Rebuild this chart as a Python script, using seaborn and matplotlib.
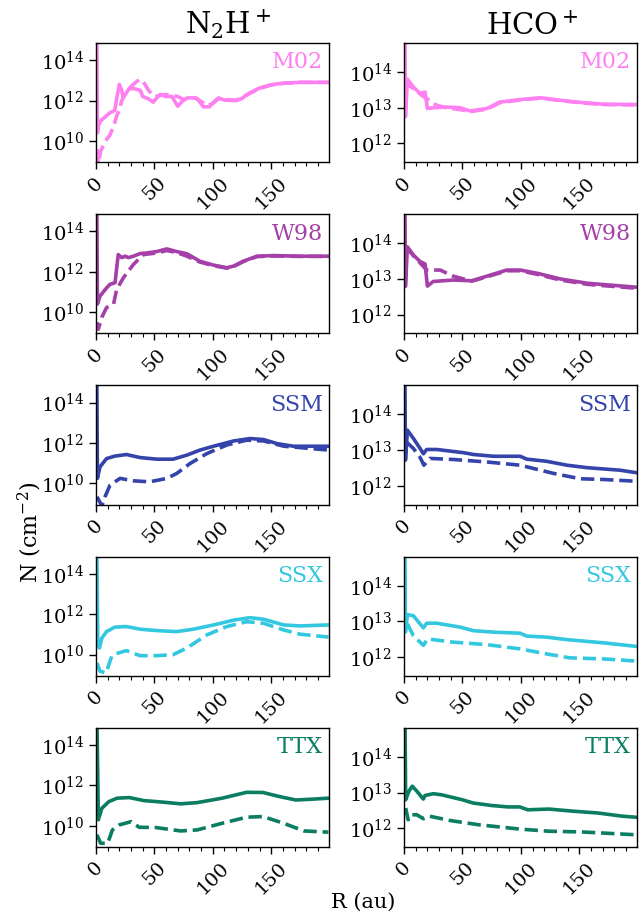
import numpy as np
import pandas as pd
import matplotlib
matplotlib.use("Agg")
import matplotlib.pyplot as plt
from matplotlib.ticker import FixedLocator, MultipleLocator, NullLocator, LogFormatterMathtext
import seaborn as sns

# ---------------- data (log10 N [cm^-2] vs R [au]) ----------------
models = ["M02", "W98", "SSM", "SSX", "TTX"]
molecules = ["N$_2$H$^+$", "HCO$^+$"]
model_colors = ["#ff80f0", "#a540a8", "#3444ab", "#34c8e0", "#0b7d62"]

# M02
r_m02_n2h_solid = [0.6, 1.2, 2, 4, 8, 12, 16, 18, 20, 22, 23, 25, 28, 32, 38, 40, 45, 49, 52, 55, 60, 65, 70, 74, 78, 85, 88, 92, 97, 100, 105, 110, 120, 125, 130, 140, 150, 160, 175, 199]
n_m02_n2h_solid = [16, 10.4, 10.75, 11.0, 11.2, 11.4, 11.5, 12.2, 12.8, 12.5, 12.2, 12.3, 12.56, 12.6, 12.5, 12.2, 12.08, 11.92, 12.13, 12.3, 12.2, 12.2, 11.72, 11.97, 12.13, 12.13, 12.0, 11.69, 11.69, 11.89, 12.13, 12.02, 12.0, 12.1, 12.33, 12.62, 12.78, 12.86, 12.9, 12.9]
r_m02_n2h_dash = [0.8, 2, 4, 8, 12, 16, 18, 20, 22, 25, 30, 35, 38, 42, 45, 50, 55, 60, 65, 70, 75, 80, 85, 90, 95, 100, 105, 110, 120, 130, 140, 150, 160, 175, 199]
n_m02_n2h_dash = [9.6, 8.9, 9.5, 10.0, 10.3, 10.9, 11.3, 11.5, 12.0, 12.3, 12.7, 12.95, 13.05, 12.8, 12.5, 12.2, 12.25, 12.3, 12.25, 12.2, 12.05, 12.1, 12.15, 11.95, 11.75, 11.85, 12.1, 12.05, 12.02, 12.3, 12.6, 12.77, 12.85, 12.9, 12.9]
r_m02_hco_solid = [0.6, 1.2, 2.9, 8, 13.7, 18, 20, 25, 36.6, 48, 56.6, 71, 82, 99.5, 117, 134, 151, 171, 199]
n_m02_hco_solid = [16, 12.75, 13.8, 13.58, 13.4, 13.44, 12.98, 13.0, 13.02, 13.0, 12.91, 12.98, 13.16, 13.23, 13.28, 13.21, 13.15, 13.1, 13.09]
r_m02_hco_dash = [1.2, 3, 5, 10, 15, 19.4, 24, 28, 36, 48, 56, 71, 82, 99.5, 117, 134, 151, 171, 199]
n_m02_hco_dash = [13.7, 13.75, 13.6, 13.5, 13.35, 13.26, 13.15, 13.07, 13.0, 12.95, 12.89, 12.96, 13.14, 13.22, 13.27, 13.2, 13.14, 13.09, 13.08]

# W98
r_w98_n2h_solid = [0.6, 1.2, 3.4, 9, 12, 16.3, 19, 22, 25, 27.7, 32, 37.7, 43.5, 52, 60.6, 69, 77.8, 89, 100.6, 112, 117.8, 126, 137.8, 152, 175, 199]
n_w98_n2h_solid = [16, 10.4, 10.8, 11.2, 11.38, 11.46, 12.85, 12.7, 12.77, 12.7, 12.77, 12.9, 12.93, 13.0, 13.13, 13.0, 12.89, 12.52, 12.33, 12.2, 12.28, 12.52, 12.77, 12.8, 12.77, 12.77]
r_w98_n2h_dash = [0.8, 2, 4.9, 9, 15, 17.7, 23.4, 32, 40.6, 52, 60.6, 69, 77.8, 89, 100.6, 112, 117.8, 126, 137.8, 152, 175, 199]
n_w98_n2h_dash = [9.5, 9.16, 9.74, 10.23, 10.4, 11.13, 11.7, 12.36, 12.85, 12.93, 13.05, 12.95, 12.77, 12.48, 12.3, 12.18, 12.26, 12.5, 12.75, 12.78, 12.76, 12.76]
r_w98_hco_solid = [0.6, 1.2, 2.9, 8, 13.7, 18, 20, 25, 42, 58, 71, 88, 99.5, 114, 134, 157, 199]
n_w98_hco_solid = [16, 12.79, 13.9, 13.67, 13.49, 13.42, 12.8, 12.93, 12.97, 12.95, 13.08, 13.25, 13.25, 13.16, 13.0, 12.88, 12.77]
r_w98_hco_dash = [1.2, 3, 8, 13.7, 19.4, 31, 42, 58, 71, 88, 99.5, 114, 134, 157, 199]
n_w98_hco_dash = [13.85, 13.85, 13.65, 13.45, 13.25, 13.25, 13.08, 12.94, 13.06, 13.23, 13.23, 13.13, 12.97, 12.85, 12.74]

# SSM
r_ssm_n2h_solid = [0.6, 1.2, 3.4, 9, 16, 26, 37.7, 52, 66, 77.8, 89, 100.6, 117.8, 132, 143.5, 155, 169, 199]
n_ssm_n2h_solid = [16, 10.25, 10.82, 11.23, 11.35, 11.43, 11.28, 11.2, 11.2, 11.4, 11.65, 11.84, 12.1, 12.22, 12.17, 11.97, 11.84, 11.84]
r_ssm_n2h_dash = [0.8, 5, 7.7, 12, 20.6, 32, 46, 60.6, 69, 80.6, 95, 112, 129, 143.5, 160.7, 199]
n_ssm_n2h_dash = [9.34, 8.9, 9.34, 9.92, 10.25, 10.13, 10.08, 10.25, 10.49, 10.99, 11.48, 11.9, 12.14, 12.1, 11.84, 11.65]
r_ssm_hco_solid = [0.6, 1.2, 2.9, 8, 13.7, 16.6, 19.4, 28, 51, 59.5, 76.6, 99.5, 105, 122, 139.5, 157, 185, 199]
n_ssm_hco_solid = [16, 12.72, 13.56, 13.33, 13.05, 12.9, 13.02, 13.02, 12.93, 12.88, 12.83, 12.83, 12.75, 12.69, 12.58, 12.51, 12.44, 12.37]
r_ssm_hco_dash = [2, 8, 13.7, 17, 22, 42, 71, 99.5, 128, 151, 171, 199]
n_ssm_hco_dash = [13.23, 13.05, 12.8, 12.58, 12.77, 12.74, 12.67, 12.58, 12.35, 12.2, 12.18, 12.13]

# SSX
r_ssx_n2h_solid = [0.6, 1.5, 2.9, 5, 9, 16, 26, 37.7, 52, 69, 83.5, 100.6, 118, 132, 143.5, 160.7, 175, 199]
n_ssx_n2h_solid = [16, 10.6, 10.33, 10.82, 11.14, 11.36, 11.39, 11.26, 11.19, 11.14, 11.26, 11.47, 11.71, 11.83, 11.75, 11.47, 11.42, 11.47]
r_ssx_n2h_dash = [0.8, 3.4, 8.6, 13.4, 16, 26, 37.7, 52, 66, 77.8, 95, 112, 129, 143.5, 160.7, 175, 199]
n_ssx_n2h_dash = [9.59, 9.18, 9.1, 9.92, 10.03, 10.2, 9.95, 9.95, 10.0, 10.33, 10.98, 11.39, 11.63, 11.55, 11.22, 11.01, 10.87]
r_ssx_hco_solid = [0.6, 1.2, 2.9, 8, 13.7, 16.6, 19.4, 28, 48, 59.5, 76.6, 99.5, 105, 122, 139.5, 171, 199]
n_ssx_hco_solid = [16, 12.7, 13.19, 13.16, 12.93, 12.82, 12.95, 12.95, 12.84, 12.74, 12.7, 12.67, 12.59, 12.56, 12.49, 12.4, 12.3]
r_ssx_hco_dash = [2.9, 8, 13.7, 16.6, 20, 42, 71, 99.5, 122, 142, 171, 199]
n_ssx_hco_dash = [12.93, 12.6, 12.42, 12.33, 12.51, 12.42, 12.35, 12.23, 12.09, 11.98, 11.95, 11.89]

# TTX
r_ttx_n2h_solid = [0.6, 2, 5, 11, 18, 28.5, 41, 58, 72.5, 86.6, 108, 129, 143, 157, 171, 185, 199]
n_ttx_n2h_solid = [16, 10.3, 10.87, 11.2, 11.37, 11.4, 11.25, 11.17, 11.09, 11.15, 11.37, 11.66, 11.65, 11.45, 11.28, 11.32, 11.37]
r_ttx_n2h_dash = [0.8, 4, 10, 14, 20, 30, 37, 51, 72.5, 86.6, 108, 129, 143, 160.6, 178, 199]
n_ttx_n2h_dash = [9.56, 9.14, 9.14, 9.8, 10.05, 10.21, 9.93, 9.92, 9.75, 9.8, 10.13, 10.43, 10.46, 10.13, 9.75, 9.69]
r_ttx_hco_solid = [0.6, 1.4, 4.2, 7, 11, 16.5, 18, 25, 32, 50, 59, 75, 89, 99, 106, 124, 145, 166, 187, 199]
n_ttx_hco_solid = [16, 12.8, 13.04, 13.18, 13.04, 12.82, 12.92, 12.97, 12.94, 12.8, 12.71, 12.64, 12.6, 12.6, 12.52, 12.54, 12.48, 12.43, 12.34, 12.31]
r_ttx_hco_dash = [1.4, 3.5, 6, 11, 16.5, 22, 39.4, 64, 99, 124, 152, 199]
n_ttx_hco_dash = [12.57, 12.24, 12.38, 12.38, 12.27, 12.34, 12.22, 12.1, 11.98, 11.92, 11.9, 11.82]

x_ticks = [0, 50, 100, 150]
y_ticks_n2h = [1e10, 1e12, 1e14]
y_ticks_hco = [1e12, 1e13, 1e14]

series = {
    ("M02", 0): [(r_m02_n2h_solid, n_m02_n2h_solid, "-"), (r_m02_n2h_dash, n_m02_n2h_dash, "--")],
    ("M02", 1): [(r_m02_hco_solid, n_m02_hco_solid, "-"), (r_m02_hco_dash, n_m02_hco_dash, "--")],
    ("W98", 0): [(r_w98_n2h_solid, n_w98_n2h_solid, "-"), (r_w98_n2h_dash, n_w98_n2h_dash, "--")],
    ("W98", 1): [(r_w98_hco_solid, n_w98_hco_solid, "-"), (r_w98_hco_dash, n_w98_hco_dash, "--")],
    ("SSM", 0): [(r_ssm_n2h_solid, n_ssm_n2h_solid, "-"), (r_ssm_n2h_dash, n_ssm_n2h_dash, "--")],
    ("SSM", 1): [(r_ssm_hco_solid, n_ssm_hco_solid, "-"), (r_ssm_hco_dash, n_ssm_hco_dash, "--")],
    ("SSX", 0): [(r_ssx_n2h_solid, n_ssx_n2h_solid, "-"), (r_ssx_n2h_dash, n_ssx_n2h_dash, "--")],
    ("SSX", 1): [(r_ssx_hco_solid, n_ssx_hco_solid, "-"), (r_ssx_hco_dash, n_ssx_hco_dash, "--")],
    ("TTX", 0): [(r_ttx_n2h_solid, n_ttx_n2h_solid, "-"), (r_ttx_n2h_dash, n_ttx_n2h_dash, "--")],
    ("TTX", 1): [(r_ttx_hco_solid, n_ttx_hco_solid, "-"), (r_ttx_hco_dash, n_ttx_hco_dash, "--")],
}

# ---------------- style ----------------
sns.set_style("ticks")
plt.rcParams.update({
    "font.family": ["DejaVu Serif"],
    "mathtext.fontset": "dejavuserif",
    "text.color": "black",
    "axes.labelcolor": "black",
    "axes.edgecolor": "black",
    "axes.linewidth": 1.0,
    "xtick.color": "black",
    "ytick.color": "black",
    "xtick.direction": "out",
    "ytick.direction": "out",
})

fig, axes = plt.subplots(5, 2, figsize=(6.41, 9.17), dpi=100)
fig.subplots_adjust(left=0.1498, right=0.9938, top=0.9531, bottom=0.0763,
                    wspace=0.322, hspace=0.437)

title_x = [0.565, 0.55]

for i, (model, color) in enumerate(zip(models, model_colors)):
    for j in range(2):
        ax = axes[i, j]
        for r, logn, ls in series[(model, j)]:
            df = pd.DataFrame({"R": r, "N": np.power(10.0, logn)})
            sns.lineplot(data=df, x="R", y="N", ax=ax, color=color,
                         linestyle=ls, linewidth=2.6, sort=False,
                         estimator=None, legend=False)
        ax.set_yscale("log")
        ax.set_xlim(0, 199.5)
        if j == 0:
            ax.set_ylim(9e8, 7e14)
            ax.yaxis.set_major_locator(FixedLocator(y_ticks_n2h))
        else:
            ax.set_ylim(3e11, 6.5e14)
            ax.yaxis.set_major_locator(FixedLocator(y_ticks_hco))
        ax.yaxis.set_major_formatter(LogFormatterMathtext())
        ax.yaxis.set_minor_locator(NullLocator())
        ax.xaxis.set_major_locator(FixedLocator(x_ticks))
        ax.xaxis.set_minor_locator(MultipleLocator(10))
        ax.tick_params(axis="both", which="major", length=5, width=1,
                       labelsize=14, colors="black")
        ax.tick_params(axis="x", which="minor", length=3, width=0.8)
        ax.tick_params(axis="x", which="major", labelrotation=45)
        ax.set_xlabel("")
        ax.set_ylabel("")
        for s in ax.spines.values():
            s.set_visible(True)
            s.set_color("black")
            s.set_linewidth(1.0)
        ax.text(0.975, 0.93, model, transform=ax.transAxes, ha="right",
                va="top", color=color, fontsize=16)
        if i == 0:
            ax.set_title(molecules[j], fontsize=21, pad=6, color="black",
                         x=title_x[j])

fig.text(0.047, 1 - 532 / 917, "N (cm$^{-2}$)", rotation=90, ha="center",
         va="center", fontsize=16)
fig.text(0.566, 1 - 902 / 917, "R (au)", ha="center", va="center",
         fontsize=15)

fig.savefig("out.png", dpi=100)
